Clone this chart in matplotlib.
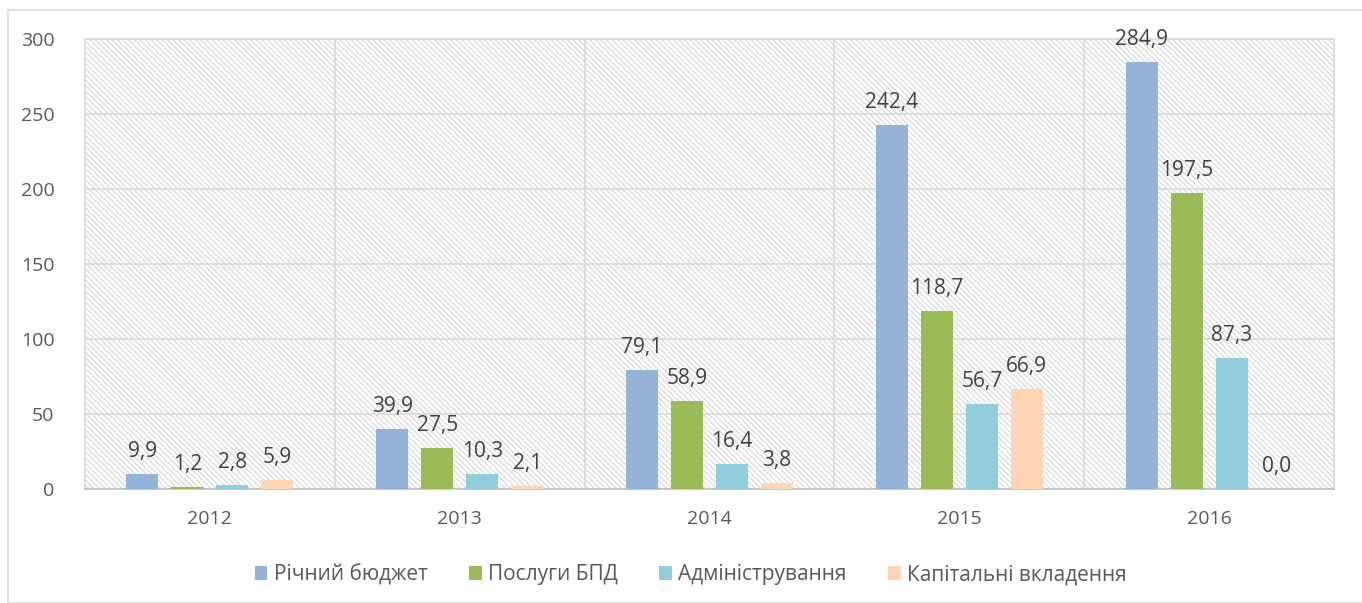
import numpy as np
import matplotlib.pyplot as plt
from matplotlib.patches import Rectangle

plt.rcParams['font.family'] = ['Open Sans', 'DejaVu Sans']
plt.rcParams['hatch.linewidth'] = 0.8
plt.rcParams['hatch.color'] = '#d0d0d0'

years = ["2012", "2013", "2014", "2015", "2016"]
series = ["Річний бюджет", "Послуги БПД", "Адміністрування", "Капітальні вкладення"]
budget = [9.9, 39.9, 79.1, 242.4, 284.9]
services = [1.2, 27.5, 58.9, 118.7, 197.5]
admin = [2.8, 10.3, 16.4, 56.7, 87.3]
capital = [5.9, 2.1, 3.8, 66.9, 0.0]
colors = ["#95b3d7", "#9bbb59", "#92cddc", "#fcd5b5"]

values = [budget, services, admin, capital]

fig = plt.figure(figsize=(13.62, 6.03), dpi=100)
ax = fig.add_axes([85 / 1362, 1 - 489 / 603, 1249 / 1362, 450 / 603])

# hatched background
bg = Rectangle((0, 0), 1, 1, transform=ax.transAxes, facecolor='white',
               edgecolor='#d6d6d6', hatch='\\\\\\\\\\\\', linewidth=0, zorder=0)
ax.add_patch(bg)

x = np.arange(len(years))
w = 0.128
step = 0.18
for i, (vals, c) in enumerate(zip(values, colors)):
    pos = x + (i - 1.5) * step
    ax.bar(pos, vals, width=w, color=c, label=series[i], zorder=3)
    for p, v in zip(pos, vals):
        ax.text(p, v + 8, f"{v:.1f}".replace('.', ','), ha='center', va='bottom',
                fontsize=15, color='#404040', zorder=4)

ax.set_xlim(-0.5, 4.5)
ax.set_ylim(0, 300)
ax.set_yticks(range(0, 301, 50))
ax.set_xticks(x)
ax.set_xticklabels(years)
for xv in np.arange(0.5, 4.5, 1):
    ax.axvline(xv, color='#d9d9d9', linewidth=1.2, zorder=1)
ax.yaxis.grid(True, color='#d9d9d9', linewidth=1.2, zorder=1)
ax.set_axisbelow(True)
for s in ['top', 'right', 'left']:
    ax.spines[s].set_color('#d9d9d9')
    ax.spines[s].set_linewidth(1.2)
ax.spines['bottom'].set_color('#bfbfbf')
ax.spines['bottom'].set_linewidth(1.2)
ax.tick_params(axis='both', length=0, labelsize=14, colors='#595959')
ax.tick_params(axis='y', pad=22)
ax.tick_params(axis='x', pad=15)

ax.legend(loc='upper center', bbox_to_anchor=(0.485, -0.125), ncol=4, frameon=False,
          fontsize=15, handlelength=0.6, handleheight=0.6, columnspacing=2.0,
          handletextpad=0.3, labelcolor='#595959')

fig.patches.append(Rectangle((8 / 1362, 0), 1.0, 1 - 10 / 603, transform=fig.transFigure,
                             fill=False, edgecolor='#d9d9d9', linewidth=1.2))

fig.savefig("out.png", dpi=100)
